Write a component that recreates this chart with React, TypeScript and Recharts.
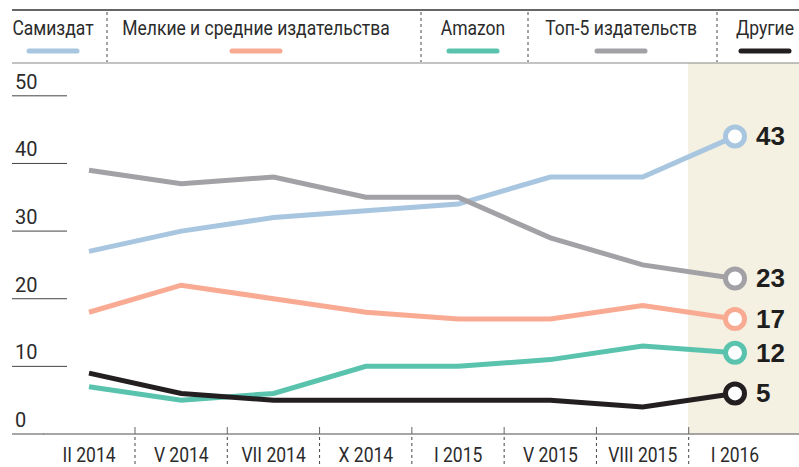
import { LineChart, Line, XAxis, YAxis } from 'recharts'

const PERIODS = ['II 2014', 'V 2014', 'VII 2014', 'X 2014', 'I 2015', 'V 2015', 'VIII 2015', 'I 2016']
const SAMIZDAT = [27, 30, 32, 33, 34, 38, 38, 44]
const SMALL_MID = [18, 22, 20, 18, 17, 17, 19, 17]
const AMAZON = [7, 5, 6, 10, 10, 11, 13, 12]
const TOP5 = [39, 37, 38, 35, 35, 29, 25, 23]
const OTHERS = [9, 6, 5, 5, 5, 5, 4, 6]
// printed end values (as written on the chart)
const END_LABELS = ['43', '17', '12', '23', '5']
const Y_TICKS = [0, 10, 20, 30, 40, 50]

const SERIES = [
  { key: 'samizdat', name: 'Самиздат', values: SAMIZDAT, color: '#a8c6df' },
  { key: 'smallMid', name: 'Мелкие и средние издательства', values: SMALL_MID, color: '#f9aa93' },
  { key: 'amazon', name: 'Amazon', values: AMAZON, color: '#5ac3ae' },
  { key: 'top5', name: 'Топ-5 издательств', values: TOP5, color: '#a2a1a6' },
  { key: 'others', name: 'Другие', values: OTHERS, color: '#231f20' },
]

// legend column centres and dashed dividers (layout only)
const LEGEND_X = [53, 256, 473, 621, 765]
const LEGEND_DIVIDERS = [107, 421, 528, 717]

const FONT = 'Roboto, "Liberation Sans", Arial, sans-serif'
const TEXT = '#2b2b2b'
const HALF_STEP = 46
const NARROW = 0.875

// condensed-looking label (the original uses a narrow grotesque)
function NarrowText({ x, y, children, anchor = 'middle' }: any) {
  return (
    <text
      transform={`translate(${x},${y}) scale(${NARROW},1)`}
      textAnchor={anchor}
      fontSize={20}
      fontFamily={FONT}
      fill={TEXT}
    >
      {children}
    </text>
  )
}

const data = PERIODS.map((p, i) => {
  const row: Record<string, any> = { period: p }
  SERIES.forEach(s => { row[s.key] = s.values[i] })
  return row
})

function YTick({ y, payload }: any) {
  return (
    <g>
      {payload.value !== 0 && <line x1={12} x2={67} y1={y} y2={y} stroke="#444" strokeWidth={1} />}
      <text x={15} y={y - 7} fontSize={20} fontFamily={FONT} fill={TEXT}>{payload.value}</text>
    </g>
  )
}

function XTick({ x, payload, index }: any) {
  const last = index === PERIODS.length - 1
  return (
    <g>
      {index === 0 && <line x1={12} x2={44} y1={434} y2={434} stroke="#888" strokeWidth={1.5} />}
      {!last && (
        <>
          <line x1={x + HALF_STEP} x2={x + HALF_STEP} y1={427} y2={434} stroke="#666" />
          <line x1={x + HALF_STEP} x2={x + HALF_STEP} y1={437} y2={467} stroke="#444" strokeDasharray="3 3" />
        </>
      )}
      <NarrowText x={x} y={462}>{payload.value}</NarrowText>
    </g>
  )
}

function makeEndDot(color: string, label: string) {
  return (props: any) => {
    const { cx, cy, index } = props
    if (index !== PERIODS.length - 1) return <g key={index} />
    return (
      <g key={index}>
        <circle cx={cx} cy={cy} r={9.5} fill="#fff" stroke={color} strokeWidth={5} />
        <text x={cx + 21} y={cy + 9} fontSize={26} fontWeight="bold" fontFamily='"Liberation Sans", Arial, sans-serif' fill="#1e1e1e">{label}</text>
      </g>
    )
  }
}

function Legend() {
  return (
    <svg width={799} height={70} style={{ position: 'absolute', left: 0, top: 0 }}>
      <line x1={12} x2={799} y1={10} y2={10} stroke="#333" strokeWidth={1.5} />
      <line x1={12} x2={799} y1={63} y2={63} stroke="#888" strokeWidth={1.2} />
      {LEGEND_DIVIDERS.map(x => (
        <line key={x} x1={x} x2={x} y1={12} y2={62} stroke="#444" strokeDasharray="3 3" />
      ))}
      {SERIES.map((s, i) => (
        <g key={s.key}>
          <NarrowText x={LEGEND_X[i]} y={35}>{s.name}</NarrowText>
          <line x1={LEGEND_X[i] - 24} x2={LEGEND_X[i] + 24} y1={51} y2={51} stroke={s.color} strokeWidth={5} strokeLinecap="round" />
        </g>
      ))}
    </svg>
  )
}

export default function App() {
  return (
    <div style={{ position: 'relative', width: 799, height: 467, background: '#fff', overflow: 'hidden' }}>
      <style>{'body{margin:0}'}</style>
      <div style={{ position: 'absolute', left: 688, top: 63, width: 111, height: 371, background: '#f4f0e2' }} />
      <div style={{ position: 'absolute', left: 0, top: 0 }}>
        <LineChart width={799} height={467} data={data} margin={{ top: 62, right: 0, bottom: 0, left: 12 }}>
          <XAxis
            dataKey="period"
            height={33}
            padding={{ left: 46, right: 64 }}
            tickLine={false}
            axisLine={{ stroke: '#888', strokeWidth: 1.5 }}
            tick={<XTick />}
            interval={0}
          />
          <YAxis width={31} domain={[0, 55]} ticks={Y_TICKS} axisLine={false} tickLine={false} tick={<YTick />} />
          {SERIES.map((s, i) => (
            <Line
              key={s.key}
              dataKey={s.key}
              type="linear"
              stroke={s.color}
              strokeWidth={5}
              dot={makeEndDot(s.color, END_LABELS[i])}
              activeDot={false}
              isAnimationActive={false}
            />
          ))}
        </LineChart>
      </div>
      <Legend />
    </div>
  )
}
